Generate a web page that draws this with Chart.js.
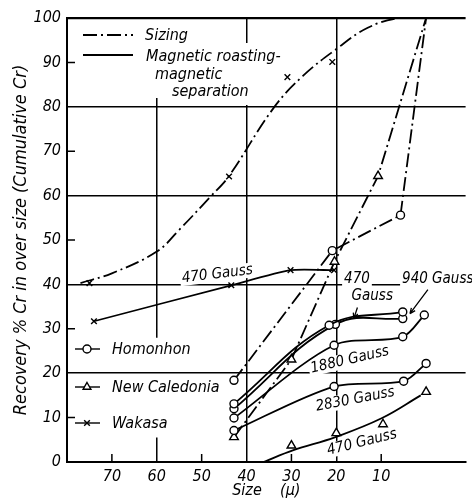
<!DOCTYPE html>
<html>
<head>
<meta charset="utf-8">
<script src="https://cdn.jsdelivr.net/npm/chart.js@4.4.1/dist/chart.umd.min.js"></script>
<style>
html, body { margin: 0; padding: 0; background: #fff; }
</style>
</head>
<body>
<canvas id="chart" width="472" height="500"></canvas>
<script>
var FONT = "'Liberation Sans Narrow', 'DejaVu Sans Condensed', 'Liberation Sans', sans-serif";

var sizeTicks = [70, 60, 50, 40, 30, 20, 10, 0];

// Wakasa (x markers)
var wakSizingX = [77, 70, 60, 55, 48, 44, 34, 27.5, 20, 13, 6, 0];
var wakSizingY = [40.3, 42.5, 47.4, 52.3, 59.8, 64.3, 79.7, 86.9, 93, 97.8, 100, 100];
var wakSizingPtX = [75, 43.9, 30.9, 20.9];
var wakSizingPtY = [40.3, 64.3, 86.7, 90.1];
var wak470X = [74, 43.4, 30.2, 20.5];
var wak470Y = [31.7, 39.8, 43.2, 43.2];

// Homonhon (o markers)
var homSizingX = [42.8, 20.9, 5.7, 0];
var homSizingY = [18.4, 47.6, 55.6, 100];
var hom470X = [42.8, 21.6, 5.2];
var hom470Y = [13.1, 30.8, 33.8];
var hom940X = [42.8, 20.2, 5.2];
var hom940Y = [12.0, 31.0, 32.3];
var hom1880X = [42.8, 20.5, 5.2, 0.4];
var hom1880Y = [9.9, 26.3, 28.2, 33.1];
var hom2830X = [42.8, 20.5, 5.0, 0];
var hom2830Y = [7.1, 17.0, 18.2, 22.2];

// New Caledonia (triangle markers)
var ncSizingX = [42.8, 30, 20.4, 10.7, 0];
var ncSizingY = [5.6, 23.1, 45.1, 64.4, 100];
var nc470X = [36.2, 29.7, 20.2, 9.8, 1.2];
var nc470Y = [0, 2.6, 5.6, 9.9, 15];
var nc470PtX = [30, 20, 9.6, 0];
var nc470PtY = [3.7, 6.5, 8.5, 15.8];

function pts(xs, ys) {
    var out = [];
    for (var i = 0; i < xs.length; i++) out.push({x: xs[i], y: ys[i]});
    return out;
}

var DASHDOT = [14, 4, 2, 4];

function lineSet(xs, ys, style, dash, tension, lastBare) {
    return {
        data: pts(xs, ys),
        showLine: true,
        borderColor: '#000',
        borderWidth: 1.8,
        borderDash: dash || [],
        tension: tension,
        pointStyle: style || 'circle',
        pointRadius: function(c) {
            if (!style) return 0;
            if (lastBare && c.dataIndex === xs.length - 1) return 0;
            return style === 'triangle' ? 5 : 4;
        },
        pointBackgroundColor: '#fff',
        pointBorderColor: '#000',
        pointBorderWidth: 1.4
    };
}

function markSet(xs, ys, style) {
    return {
        data: pts(xs, ys),
        showLine: false,
        pointStyle: style,
        pointRadius: style === 'triangle' ? 5 : 4,
        pointBackgroundColor: '#fff',
        pointBorderColor: '#000',
        pointBorderWidth: 1.4
    };
}

function txt(ctx, xs, ys, s, vx, vy, rot, size, box) {
    var px = xs.getPixelForValue(vx), py = ys.getPixelForValue(vy);
    ctx.save();
    ctx.translate(px, py);
    ctx.rotate(rot * Math.PI / 180);
    ctx.font = 'italic ' + size + 'px ' + FONT;
    ctx.textAlign = 'center';
    ctx.textBaseline = 'middle';
    if (box) {
        var w = ctx.measureText(s).width;
        ctx.fillStyle = '#fff';
        ctx.fillRect(-w / 2 - 2, -size * 0.5, w + 4, size);
    } else {
        ctx.fillStyle = '#000';
        ctx.fillText(s, 0, 0);
    }
    ctx.restore();
}

function arrow(ctx, xs, ys, x1, y1, x2, y2) {
    var a = xs.getPixelForValue(x1), b = ys.getPixelForValue(y1);
    var c = xs.getPixelForValue(x2), d = ys.getPixelForValue(y2);
    var ang = Math.atan2(d - b, c - a);
    ctx.save();
    ctx.strokeStyle = '#000';
    ctx.lineWidth = 1.3;
    ctx.beginPath();
    ctx.moveTo(a, b); ctx.lineTo(c, d);
    ctx.moveTo(c, d); ctx.lineTo(c - 6 * Math.cos(ang - 0.4), d - 6 * Math.sin(ang - 0.4));
    ctx.moveTo(c, d); ctx.lineTo(c - 6 * Math.cos(ang + 0.4), d - 6 * Math.sin(ang + 0.4));
    ctx.stroke();
    ctx.restore();
}

var notes = [
    ['470 Gauss', 46.5, 42.3, -7],
    ['470', 15.4, 41.2, 0],
    ['Gauss', 12, 37.3, 0],
    ['940 Gauss', -2.6, 41.2, 0],
    ['1880 Gauss', 17, 23, -13],
    ['2830 Gauss', 15.8, 14.1, -11],
    ['470 Gauss', 14.3, 4.4, -14]
];

var decor = {
    id: 'decor',
    beforeDatasetsDraw: function(chart) {
        var ctx = chart.ctx, xs = chart.scales.x, ys = chart.scales.y, a = chart.chartArea;
        // blank out grid behind the top key
        ctx.save();
        ctx.fillStyle = '#fff';
        ctx.fillRect(a.left + 8, a.top + 25, 255, 62);
        ctx.restore();
        notes.forEach(function(n) { txt(ctx, xs, ys, n[0], n[1], n[2], n[3], 15, true); });
        // broken 60 line and short inner ticks
        ctx.save();
        ctx.strokeStyle = '#000';
        ctx.lineWidth = 1.5;
        ctx.beginPath();
        var x60 = xs.getPixelForValue(60);
        ctx.moveTo(x60, ys.getPixelForValue(82)); ctx.lineTo(x60, ys.getPixelForValue(28));
        ctx.moveTo(x60, ys.getPixelForValue(5.5)); ctx.lineTo(x60, a.bottom);
        [10, 30, 50, 70, 90].forEach(function(v) {
            var py = ys.getPixelForValue(v);
            ctx.moveTo(a.left, py); ctx.lineTo(a.left + 8, py);
        });
        [70, 50, 30, 10].forEach(function(v) {
            var px = xs.getPixelForValue(v);
            ctx.moveTo(px, a.bottom); ctx.lineTo(px, a.bottom - 8);
        });
        ctx.stroke();
        ctx.restore();
    },
    afterDatasetsDraw: function(chart) {
        var ctx = chart.ctx, xs = chart.scales.x, ys = chart.scales.y, a = chart.chartArea;
        notes.forEach(function(n) { txt(ctx, xs, ys, n[0], n[1], n[2], n[3], 15, false); });
        arrow(ctx, xs, ys, 15.3, 34.8, 16.1, 32.3);
        arrow(ctx, xs, ys, -0.4, 38.8, 3.6, 33.4);

        ctx.save();
        ctx.strokeStyle = '#000';
        ctx.fillStyle = '#000';
        ctx.lineWidth = 1.8;
        ctx.textBaseline = 'middle';
        ctx.font = 'italic 16px ' + FONT;
        // top key
        var L = a.left, T = a.top;
        ctx.setLineDash(DASHDOT);
        ctx.beginPath(); ctx.moveTo(L + 16, T + 17); ctx.lineTo(L + 66, T + 17); ctx.stroke();
        ctx.setLineDash([]);
        ctx.beginPath(); ctx.moveTo(L + 16, T + 37); ctx.lineTo(L + 66, T + 37); ctx.stroke();
        ctx.fillText('Sizing', L + 78, T + 18);
        ctx.fillText('Magnetic roasting-', L + 79, T + 39);
        ctx.fillText('magnetic', L + 88, T + 57);
        ctx.fillText('separation', L + 105, T + 74);
        // bottom key
        var B = a.bottom;
        var rows = [['Homonhon', 'circle', 113], ['New Caledonia', 'triangle', 75], ['Wakasa', 'crossRot', 39]];
        rows.forEach(function(r) {
            var y = B - r[2];
            ctx.lineWidth = 1.4;
            ctx.beginPath(); ctx.moveTo(L + 8, y); ctx.lineTo(L + 33, y); ctx.stroke();
            ctx.fillStyle = '#fff';
            Chart.helpers.drawPoint(ctx, {pointStyle: r[1], radius: r[1] === 'triangle' ? 4.5 : 4, rotation: 0, borderWidth: 1.4}, L + 20, y);
            ctx.fillStyle = '#000';
            ctx.fillText(r[0], L + 45, y + 1);
        });
        ctx.restore();
    }
};

new Chart(document.getElementById('chart'), {
    type: 'scatter',
    data: {
        datasets: [
            lineSet(wakSizingX, wakSizingY, null, DASHDOT, 0.4, false),
            markSet(wakSizingPtX, wakSizingPtY, 'crossRot'),
            lineSet(wak470X, wak470Y, 'crossRot', [], 0.2, false),
            lineSet(homSizingX, homSizingY, 'circle', DASHDOT, 0, true),
            lineSet(hom470X, hom470Y, 'circle', [], 0.4, false),
            lineSet(hom940X, hom940Y, 'circle', [], 0.4, false),
            lineSet(hom1880X, hom1880Y, 'circle', [], 0.3, false),
            lineSet(hom2830X, hom2830Y, 'circle', [], 0.3, false),
            lineSet(ncSizingX, ncSizingY, 'triangle', DASHDOT, 0, true),
            lineSet(nc470X, nc470Y, null, [], 0.4, false),
            markSet(nc470PtX, nc470PtY, 'triangle')
        ]
    },
    options: {
        responsive: false,
        animation: false,
        layout: { padding: { top: 18, right: 0, left: 0, bottom: 0 } },
        plugins: { legend: { display: false }, tooltip: { enabled: false } },
        scales: {
            x: {
                type: 'linear',
                reverse: true,
                min: -8.8,
                max: 80,
                afterFit: function(s) { s.height = 38; },
                border: { display: true, color: '#000', width: 2 },
                grid: {
                    drawTicks: false,
                    color: function(c) { return [0, 20, 40].indexOf(c.tick.value) >= 0 ? '#000' : 'rgba(0,0,0,0)'; },
                    lineWidth: 1.5
                },
                ticks: {
                    stepSize: 10,
                    padding: 5,
                    color: '#000',
                    font: { family: FONT, size: 16, style: 'italic' },
                    callback: function(v) { return sizeTicks.indexOf(v) >= 0 ? String(v) : ''; }
                },
                title: {
                    display: true,
                    text: 'Size    (\u03bc)',
                    color: '#000',
                    padding: 0,
                    font: { family: FONT, size: 16, style: 'italic' }
                }
            },
            y: {
                min: 0,
                max: 100,
                afterFit: function(s) { s.width = 67; },
                border: { display: true, color: '#000', width: 2 },
                grid: {
                    drawTicks: false,
                    color: function(c) { return [20, 40, 60, 80, 100].indexOf(c.tick.value) >= 0 ? '#000' : 'rgba(0,0,0,0)'; },
                    lineWidth: function(c) { return c.tick.value === 100 ? 2.2 : 1.5; }
                },
                ticks: {
                    stepSize: 10,
                    padding: 6,
                    color: '#000',
                    font: { family: FONT, size: 16, style: 'italic' }
                },
                title: {
                    display: true,
                    text: 'Recovery % Cr in over size (Cumulative Cr)',
                    color: '#000',
                    padding: { top: 11, bottom: 0 },
                    font: { family: FONT, size: 18, style: 'italic' }
                }
            }
        }
    },
    plugins: [decor]
});
</script>
</body>
</html>
